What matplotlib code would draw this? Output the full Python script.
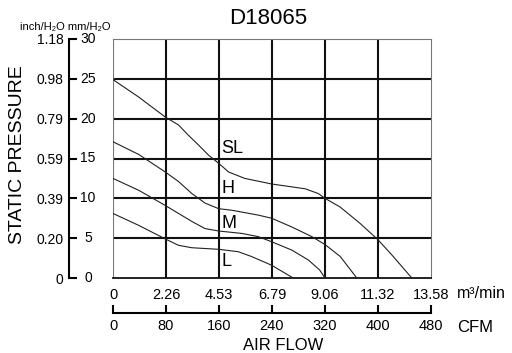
import matplotlib
matplotlib.use('Agg')
import matplotlib.pyplot as plt
import matplotlib.transforms as mtransforms

plt.rcParams['font.family'] = ['Liberation Sans', 'DejaVu Sans']

# axis scales
cfm_ticks = [0, 80, 160, 240, 320, 400, 480]
m3_labels = ['0', '2.26', '4.53', '6.79', '9.06', '11.32', '13.58']
mm_ticks = [0, 5, 10, 15, 20, 25, 30]
inch_labels = ['0', '0.20', '0.39', '0.59', '0.79', '0.98', '1.18']

# fan curves (CFM, mmH2O)
sl_cfm = [0, 39, 79, 99, 114, 129, 144.5, 159.5, 174.6, 199, 239.5, 290, 310, 320, 343, 373, 400, 423, 451]
sl_mm = [24.9, 22.7, 20.2, 19.2, 17.9, 16.7, 15.4, 14.4, 13.3, 12.5, 11.8, 11.2, 10.6, 10.0, 8.9, 6.85, 4.8, 2.7, 0]
h_cfm = [0, 39, 79, 99, 119, 139, 159.5, 179.6, 219, 239.5, 270, 300, 320, 343, 368]
h_mm = [17.1, 15.5, 13.3, 12.1, 10.6, 9.4, 8.7, 8.5, 7.9, 7.5, 6.4, 5.2, 4.2, 2.7, 0]
m_cfm = [0, 39, 79, 99, 119, 139, 159.5, 194, 219, 239.5, 270, 295, 312, 320]
m_mm = [12.5, 11.0, 9.1, 8.1, 7.1, 6.2, 5.9, 5.6, 5.2, 4.55, 3.5, 2.25, 1.0, 0]
l_cfm = [0, 39, 79, 99, 119, 159.5, 189, 209, 239.5, 272]
l_mm = [8.1, 6.6, 4.9, 4.1, 3.8, 3.6, 3.3, 2.7, 1.6, 0]

curve_names = ['SL', 'H', 'M', 'L']
name_pos = [(164, 16.2), (164, 11.2), (164, 6.8), (164, 2.1)]

fig = plt.figure(figsize=(5.12, 3.53), dpi=100)
ax = fig.add_axes([113 / 512, 75 / 353, 318 / 512, 239 / 353])
ax.set_xlim(0, 480)
ax.set_ylim(0, 30)

# left pressure axis
ax.spines['left'].set_position(('outward', 32))
ax.spines['left'].set_linewidth(1.5)
ax.set_yticks(mm_ticks)
ax.set_yticklabels(inch_labels)
ax.tick_params(axis='y', which='major', direction='in', length=5.8, width=1.5,
               pad=3.5, labelsize=10)
trans = mtransforms.blended_transform_factory(ax.transAxes, ax.transData)
for v in mm_ticks:
    ax.text(-0.079, v, str(v), transform=trans, ha='center', va='center',
            fontsize=10, clip_on=False)

# bottom axes: m3/min labels, then CFM axis
ax.set_xticks(cfm_ticks)
ax.set_xticklabels(m3_labels)
ax.tick_params(axis='x', which='major', length=0, pad=7, labelsize=10.5)

# interior grid on minor ticks, frame edges stay thin
ax.xaxis.remove_overlapping_locs = False
ax.yaxis.remove_overlapping_locs = False
ax.set_xticks(cfm_ticks[1:-1], minor=True)
ax.set_yticks(mm_ticks[1:-1], minor=True)
ax.grid(which='minor', color='#111111', linewidth=1.5)
ax.tick_params(which='minor', length=0)
ax.axvline(0, color='#777777', linewidth=0.8)
for s in ['top', 'right']:
    ax.spines[s].set_color('#777777')
    ax.spines[s].set_linewidth(0.8)
ax.spines['bottom'].set_color('#111111')
ax.spines['bottom'].set_linewidth(1.3)

sec = ax.secondary_xaxis(-35 / 239)
sec.set_xticks(cfm_ticks)
sec.set_xticklabels([str(v) for v in cfm_ticks])
sec.tick_params(direction='in', length=5.8, width=1.5, pad=4, labelsize=10.5)
sec.spines['bottom'].set_linewidth(1.5)

for xs, ys in [(sl_cfm, sl_mm), (h_cfm, h_mm), (m_cfm, m_mm), (l_cfm, l_mm)]:
    ax.plot(xs, ys, color='#222222', linewidth=0.8, zorder=3)
for name, (x, y) in zip(curve_names, name_pos):
    ax.text(x, y, name, fontsize=13, ha='left', va='center', zorder=4)

fig.text(268 / 512, 1 - 19 / 353, 'D18065', fontsize=16, ha='center', va='center')
fig.text(20 / 512, 1 - 27 / 353, 'inch/H₂O mm/H₂O', fontsize=8, ha='left', va='center')
fig.text(18 / 512, 1 - 155 / 353, 'STATIC PRESSURE', fontsize=14, rotation=90,
         ha='center', va='center')
fig.text(283 / 512, 1 - 345 / 353, 'AIR FLOW', fontsize=12, ha='center', va='center')
fig.text(457 / 512, 1 - 294 / 353, 'm³/min', fontsize=11.5, ha='left', va='center')
fig.text(457 / 512, 1 - 327 / 353, 'CFM', fontsize=12, ha='left', va='center')

fig.savefig('out.png', dpi=100)
